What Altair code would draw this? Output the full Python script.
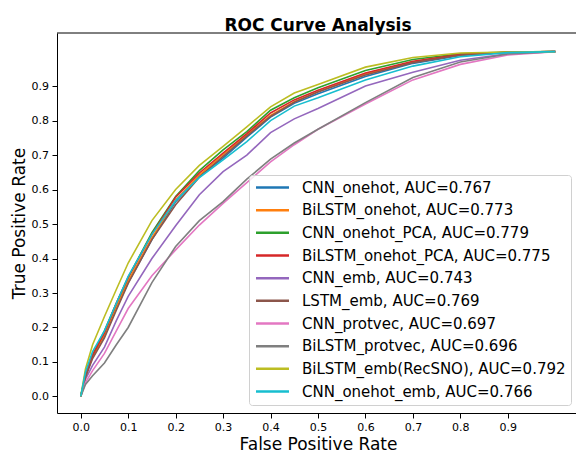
import altair as alt
import pandas as pd

names = ["CNN_onehot", "BiLSTM_onehot", "CNN_onehot_PCA", "BiLSTM_onehot_PCA", "CNN_emb",
         "LSTM_emb", "CNN_protvec", "BiLSTM_protvec", "BiLSTM_emb(RecSNO)", "CNN_onehot_emb"]
aucs = ["0.767", "0.773", "0.779", "0.775", "0.743", "0.769", "0.697", "0.696", "0.792", "0.766"]
colors = ["#1f77b4", "#ff7f0e", "#2ca02c", "#d62728", "#9467bd",
          "#8c564b", "#e377c2", "#7f7f7f", "#bcbd22", "#17becf"]

fpr = [0, 0.01, 0.025, 0.05, 0.075, 0.1, 0.15, 0.2, 0.25, 0.3, 0.35, 0.4, 0.45, 0.5, 0.6, 0.7, 0.8, 0.9, 1.0]

tpr_cnn_onehot      = [0, .06, .115, .175, .255, .330, .455, .565, .638, .691, .752, .810, .850, .878, .928, .966, .989, .998, 1]
tpr_bilstm_onehot   = [0, .06, .115, .180, .260, .335, .460, .570, .642, .702, .758, .815, .855, .884, .935, .970, .991, .998, 1]
tpr_cnn_onehot_pca  = [0, .06, .120, .190, .270, .345, .475, .580, .655, .715, .768, .830, .866, .895, .945, .977, .994, .999, 1]
tpr_bilstm_oh_pca   = [0, .06, .120, .185, .270, .345, .470, .578, .648, .706, .762, .822, .860, .888, .938, .972, .992, .998, 1]
tpr_cnn_emb         = [0, .05, .090, .143, .220, .290, .400, .495, .585, .652, .700, .765, .805, .835, .900, .940, .975, .994, 1]
tpr_lstm_emb        = [0, .055, .110, .170, .250, .328, .455, .556, .636, .696, .755, .812, .853, .883, .932, .968, .990, .998, 1]
tpr_cnn_protvec     = [0, .04, .075, .125, .190, .255, .350, .425, .497, .560, .620, .680, .730, .775, .848, .918, .963, .990, 1]
tpr_bilstm_protvec  = [0, .035, .060, .097, .150, .200, .330, .435, .510, .565, .630, .688, .735, .775, .852, .925, .970, .993, 1]
tpr_bilstm_recsno   = [0, .08, .150, .232, .310, .387, .510, .600, .670, .725, .782, .840, .880, .905, .955, .983, .996, .999, 1]
tpr_cnn_onehot_emb  = [0, .07, .130, .190, .270, .348, .470, .568, .635, .686, .739, .800, .842, .866, .918, .958, .985, .997, 1]

tprs = [tpr_cnn_onehot, tpr_bilstm_onehot, tpr_cnn_onehot_pca, tpr_bilstm_oh_pca, tpr_cnn_emb,
        tpr_lstm_emb, tpr_cnn_protvec, tpr_bilstm_protvec, tpr_bilstm_recsno, tpr_cnn_onehot_emb]

labels = [f"{n}, AUC={a}" for n, a in zip(names, aucs)]
ticks = [0.0, 0.1, 0.2, 0.3, 0.4, 0.5, 0.6, 0.7, 0.8, 0.9]

rows = []
for k, (lab, t) in enumerate(zip(labels, tprs)):
    for i, (f, v) in enumerate(zip(fpr, t)):
        rows.append({"model": lab, "fpr": f, "tpr": v, "k": k, "i": i})
df = pd.DataFrame(rows)

FONT = "DejaVu Sans"
W, H = 519, 380

lines = alt.Chart(df).mark_line(strokeWidth=1.6, clip=True).encode(
    x=alt.X("fpr:Q", scale=alt.Scale(domain=[-0.05, 1.0437], nice=False, zero=False),
            axis=alt.Axis(values=ticks, format=".1f", title="False Positive Rate",
                          titleX=261, titleY=36, titleBaseline="alphabetic",
                          titleAlign="center")),
    y=alt.Y("tpr:Q", scale=alt.Scale(domain=[-0.048, 1.054], nice=False, zero=False),
            axis=alt.Axis(values=ticks, format=".1f", title="True Positive Rate",
                          titleX=-33, titleY=190, titleAngle=270,
                          titleBaseline="alphabetic", titleAlign="center")),
    color=alt.Color("model:N", sort=labels,
                    scale=alt.Scale(domain=labels, range=colors),
                    legend=alt.Legend(orient="none", legendX=192, legendY=142, title=None,
                                      symbolType="M-1,0H5", symbolSize=121,
                                      symbolStrokeWidth=2.5, labelFontSize=15,
                                      labelFont=FONT, labelColor="black", labelLimit=0,
                                      padding=5, rowPadding=6.67, labelOffset=33,
                                      fillColor="rgba(255,255,255,0.8)",
                                      strokeColor="#d0d0d0", cornerRadius=3)),
    detail="k:O",
    order="i:Q",
)

top_spine = alt.Chart(pd.DataFrame({"a": [0]})).mark_rule(color="black", strokeWidth=1).encode(
    x=alt.value(0), x2=alt.value(W), y=alt.value(0)
)

chart = alt.layer(lines, top_spine).properties(
    width=W, height=H,
    title=alt.TitleParams("ROC Curve Analysis", font=FONT, fontSize=17, fontWeight="bold",
                          color="black", anchor="middle", frame="group", dx=1.5,
                          offset=3.5, dy=18.5, baseline="alphabetic"),
    autosize=alt.AutoSizeParams(type="none"),
    padding={"left": 57, "top": 33, "right": 0, "bottom": 41},
).configure_view(stroke=None).configure_axis(
    labelFont=FONT, labelFontSize=11, labelColor="black", tickColor="black",
    tickSize=5, labelPadding=3, domainColor="black", grid=False,
    titleFont=FONT, titleFontSize=17, titleFontWeight="normal", titleColor="black",
).configure_axisY(labelPadding=3.5)

chart.save("out.html", embed_options={"renderer": "svg", "actions": False})
